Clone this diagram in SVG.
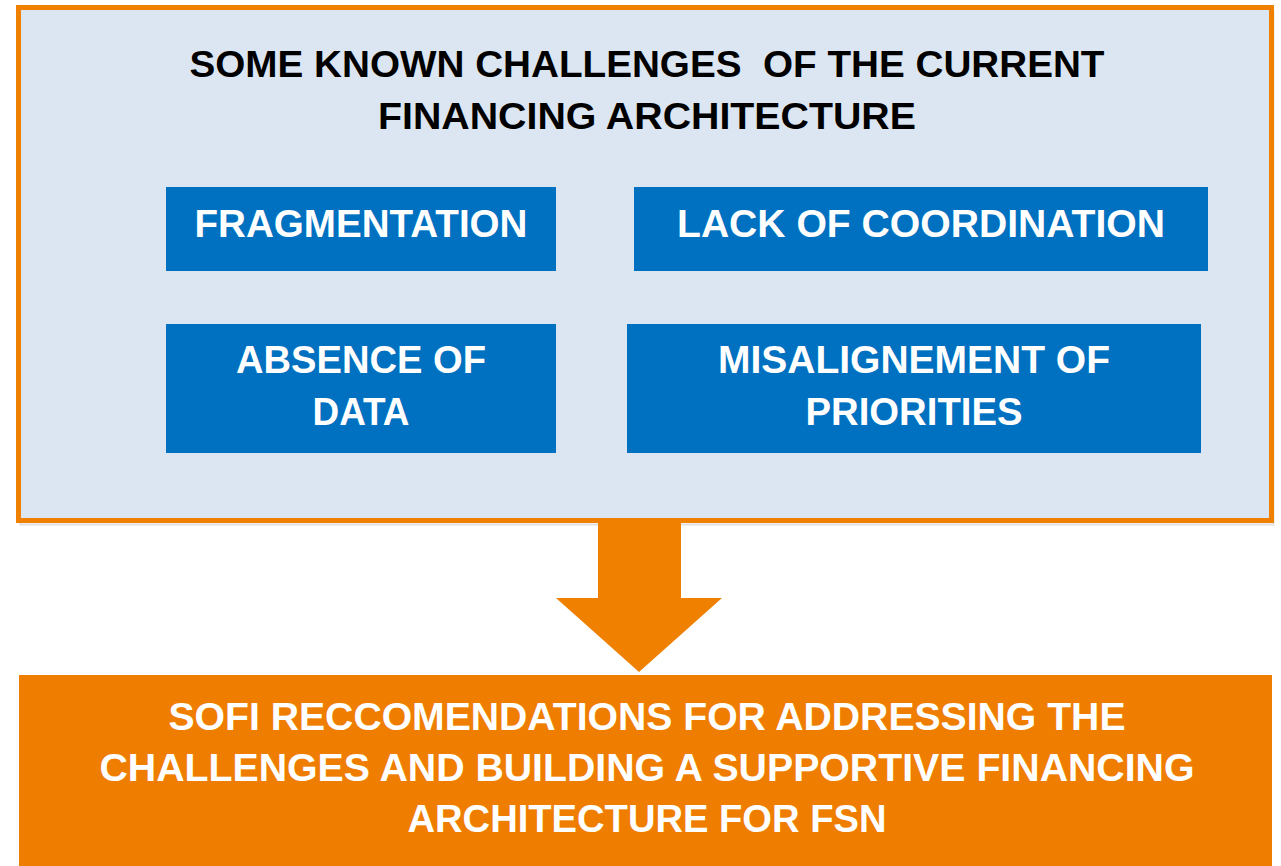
<svg xmlns="http://www.w3.org/2000/svg" width="1281" height="866" viewBox="0 0 1281 866">
  <style>
    .panel { fill: #DCE6F2; stroke: #F08000; stroke-width: 5; }
    .shadow { fill: none; stroke: #000; stroke-opacity: 0.12; stroke-width: 2; }
    .chip { fill: #0070C0; }
    .title { font-family: "Liberation Sans", Arial, sans-serif; font-weight: bold; font-size: 37px; fill: #000; text-anchor: middle; }
    .label { font-family: "Liberation Sans", Arial, sans-serif; font-weight: bold; font-size: 39px; fill: #fff; text-anchor: middle; }
    .arrow { fill: #F08000; }
    .result { fill: #EF7D00; }
  </style>

  <!-- background -->
  <rect x="0" y="0" width="1281" height="866" fill="#fff"/>

  <!-- challenges panel -->
  <g id="challenges">
    <rect class="shadow" x="20.5" y="10.5" width="1253" height="514"/>
    <rect class="panel" x="18.5" y="7.5" width="1253" height="513"/>
    <text class="title" x="647" y="77" textLength="915" lengthAdjust="spacingAndGlyphs" xml:space="preserve">SOME KNOWN CHALLENGES  OF THE CURRENT</text>
    <text class="title" x="647" y="129" textLength="538" lengthAdjust="spacingAndGlyphs">FINANCING ARCHITECTURE</text>
  </g>

  <g id="fragmentation">
    <rect class="chip" x="166" y="187" width="390" height="84"/>
    <text class="label" x="361" y="237" textLength="333" lengthAdjust="spacingAndGlyphs">FRAGMENTATION</text>
  </g>

  <g id="coordination">
    <rect class="chip" x="634" y="187" width="574" height="84"/>
    <text class="label" x="921" y="237" textLength="488" lengthAdjust="spacingAndGlyphs">LACK OF COORDINATION</text>
  </g>

  <g id="data">
    <rect class="chip" x="166" y="324" width="390" height="129"/>
    <text class="label" x="361" y="373" textLength="250" lengthAdjust="spacingAndGlyphs">ABSENCE OF</text>
    <text class="label" x="361" y="425" textLength="97" lengthAdjust="spacingAndGlyphs">DATA</text>
  </g>

  <g id="priorities">
    <rect class="chip" x="627" y="324" width="574" height="129"/>
    <text class="label" x="914" y="373" textLength="392" lengthAdjust="spacingAndGlyphs">MISALIGNEMENT OF</text>
    <text class="label" x="914" y="425" textLength="217" lengthAdjust="spacingAndGlyphs">PRIORITIES</text>
  </g>

  <!-- connector: block arrow from panel to recommendations -->
  <g id="connectors">
    <polygon class="arrow" points="598,523 681,523 681,598 722,598 639,672 556,598 598,598"/>
  </g>

  <!-- recommendations -->
  <g id="recommendations">
    <rect class="result" x="19" y="675" width="1253" height="191"/>
    <text class="label" x="647" y="730" textLength="957" lengthAdjust="spacingAndGlyphs">SOFI RECCOMENDATIONS FOR ADDRESSING THE</text>
    <text class="label" x="647" y="781" textLength="1095" lengthAdjust="spacingAndGlyphs">CHALLENGES AND BUILDING A SUPPORTIVE FINANCING</text>
    <text class="label" x="647" y="832" textLength="479" lengthAdjust="spacingAndGlyphs">ARCHITECTURE FOR FSN</text>
  </g>
</svg>
